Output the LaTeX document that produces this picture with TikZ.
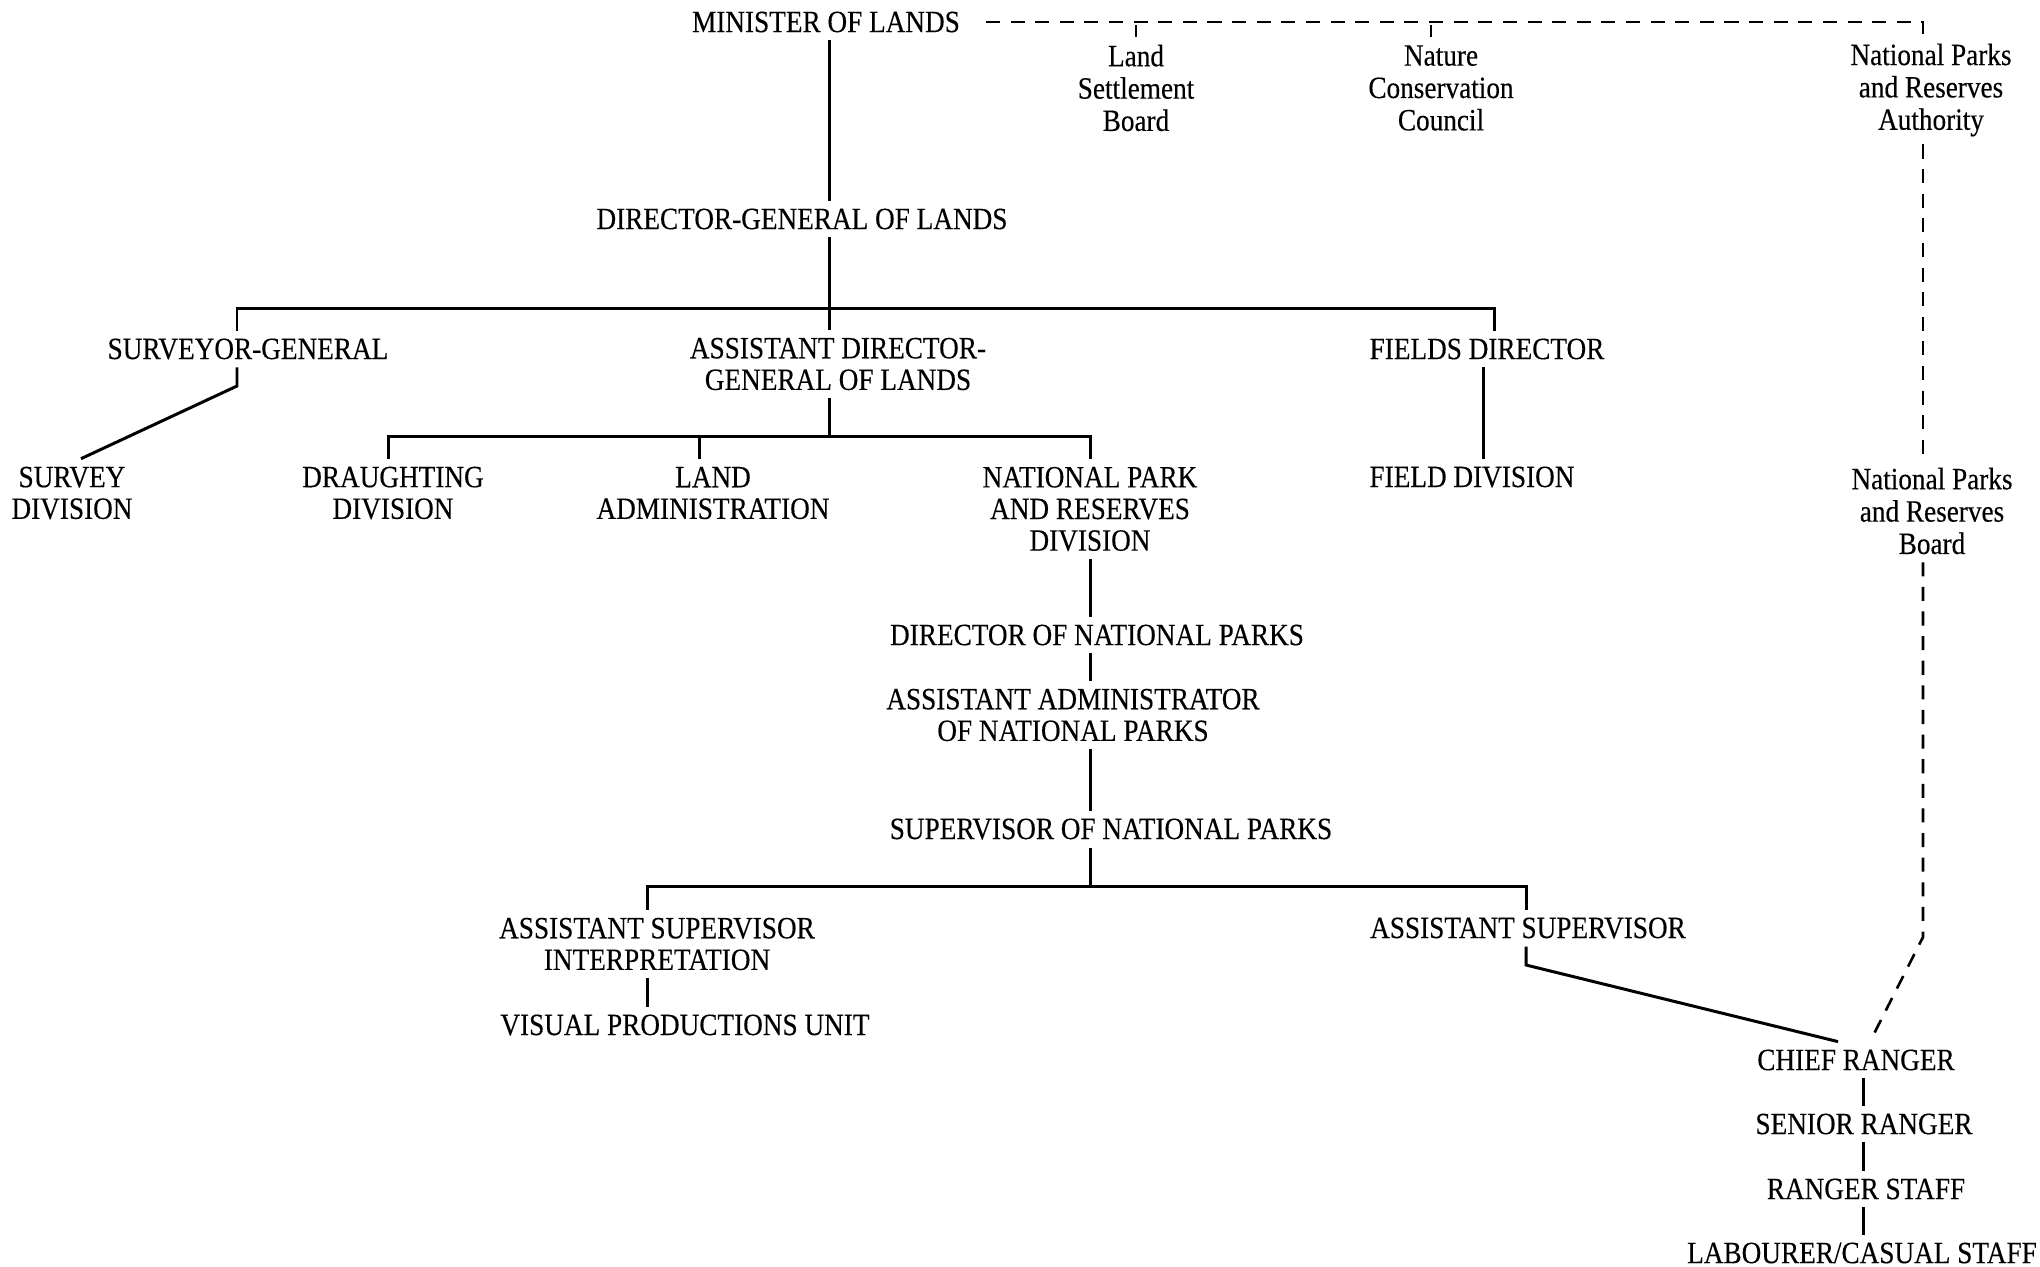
\documentclass[tikz,border=0pt]{standalone}
\usepackage{fontspec}
\setmainfont{Liberation Serif}[FakeStretch=0.88, FakeBold=0.3]
\begin{document}
\begin{tikzpicture}[x=0.01cm, y=-0.01cm,
  lbl/.style={inner sep=0pt, outer sep=0.08cm, align=center,
    font=\fontsize{8.8pt}{9pt}\selectfont},
  board/.style={lbl, font=\fontsize{8.8pt}{9.2pt}\selectfont},
  solidline/.style={line width=0.85pt, line cap=butt},
  linkline/.style={line width=0.75pt, dash pattern=on 4pt off 3pt},
  tick/.style={line width=0.6pt}]
\useasboundingbox (0,0) rectangle (2040,1266);

% ---- statutory bodies along the top
\node[lbl]   (min)  at (826,22)   {MINISTER OF LANDS};
\node[board] (lsb)  at (1136,88)  {Land\\Settlement\\Board};
\node[board] (ncc)  at (1441,88)  {Nature\\Conservation\\Council};
\node[board] (npra) at (1931,90)  {National Parks\\and Reserves\\Authority};
\node[board] (npb)  at (1932,511) {National Parks\\and Reserves\\Board};

% ---- department of lands
\node[lbl] (dg)   at (802,219)  {DIRECTOR-GENERAL OF LANDS};
\node[lbl] (sg)   at (248,349)  {SURVEYOR-GENERAL};
\node[lbl] (adg)  at (838,364)  {ASSISTANT DIRECTOR-\\GENERAL OF LANDS};
\node[lbl] (fd)   at (1487,349) {FIELDS DIRECTOR};
\node[lbl] (sd)   at (72,493)   {SURVEY\\DIVISION};
\node[lbl] (dd)   at (393,493)  {DRAUGHTING\\DIVISION};
\node[lbl] (la)   at (713,493)  {LAND\\ADMINISTRATION};
\node[lbl] (npd)  at (1090,509) {NATIONAL PARK\\AND RESERVES\\DIVISION};
\node[lbl] (fdiv) at (1472,477) {FIELD DIVISION};

% ---- national parks line
\node[lbl] (dnp)  at (1097,635) {DIRECTOR OF NATIONAL PARKS};
\node[lbl] (aanp) at (1073,715) {ASSISTANT ADMINISTRATOR\\OF NATIONAL PARKS};
\node[lbl] (snp)  at (1111,829) {SUPERVISOR OF NATIONAL PARKS};
\node[lbl] (asi)  at (657,944)  {ASSISTANT SUPERVISOR\\INTERPRETATION};
\node[lbl] (vpu)  at (685,1025) {VISUAL PRODUCTIONS UNIT};
\node[lbl] (as)   at (1528,928) {ASSISTANT SUPERVISOR};
\node[lbl] (cr)   at (1856,1060) {CHIEF RANGER};
\node[lbl] (sr)   at (1864,1124) {SENIOR RANGER};
\node[lbl] (rs)   at (1866,1189) {RANGER STAFF};
\node[lbl] (lcs)  at (1862,1253) {LABOURER/CASUAL STAFF};

% ---- junction points
\coordinate (xm)  at (829,0);
\coordinate (b1)  at (237,308);
\coordinate (bm)  at (829,308);
\coordinate (b2)  at (1494,308);
\coordinate (k1)  at (237,386);
\coordinate (c1)  at (388,436);
\coordinate (cm)  at (829,436);
\coordinate (c2)  at (699,436);
\coordinate (c3)  at (1090,436);
\coordinate (xf)  at (1483,0);
\coordinate (xn)  at (1090,0);
\coordinate (d1)  at (647,886);
\coordinate (dm)  at (1090,886);
\coordinate (d2)  at (1526,886);
\coordinate (k2)  at (1526,965);
\coordinate (xr)  at (1863,0);
\coordinate (t0)  at (1923,22);
\coordinate (t1)  at (1136,22);
\coordinate (t2)  at (1431,22);
\coordinate (k3)  at (1923,937);

% ---- line of command
\draw[solidline] (min.south -| xm) -- (dg.north -| xm);
\draw[solidline] (dg.south -| xm) -- (bm);
\draw[solidline] (sg.north -| b1) -- (b1) -- (b2) -- (fd.north -| b2);
\draw[solidline] (bm) -- (adg.north -| bm);
\draw[solidline] (sg.south -| b1) -- (k1) -- ([xshift=0.09cm]sd.north);
\draw[solidline] (adg.south -| xm) -- (cm);
\draw[solidline] (dd.north -| c1) -- (c1) -- (c3) -- (npd.north -| c3);
\draw[solidline] (c2) -- (la.north -| c2);
\draw[solidline] (fd.south -| xf) -- (fdiv.north -| xf);
\draw[solidline] (npd.south -| xn) -- (dnp.north -| xn);
\draw[solidline] (dnp.south -| xn) -- (aanp.north -| xn);
\draw[solidline] (aanp.south -| xn) -- (snp.north -| xn);
\draw[solidline] (snp.south -| xn) -- (dm);
\draw[solidline] (asi.north -| d1) -- (d1) -- (d2) -- (as.north -| d2);
\draw[solidline] (asi.south -| d1) -- (vpu.north -| d1);
\draw[solidline] (as.south -| d2) -- (k2) -- ([xshift=-0.18cm]cr.north);
\draw[solidline] (cr.south -| xr) -- (sr.north -| xr);
\draw[solidline] (sr.south -| xr) -- (rs.north -| xr);
\draw[solidline] (rs.south -| xr) -- (lcs.north -| xr);

% ---- advisory links
\draw[linkline] ([xshift=0.18cm]min.east) -- (t0) -- (npra.north -| t0);
\draw[tick] ([yshift=-0.03cm]t1) -- (lsb.north -| t1);
\draw[tick] ([yshift=-0.03cm]t2) -- (ncc.north -| t2);
\draw[linkline] (npra.south -| t0) -- (npb.north -| t0);
\draw[linkline] (npb.south -| t0) -- (k3) -- ([xshift=0.14cm]cr.north);
\end{tikzpicture}
\end{document}
